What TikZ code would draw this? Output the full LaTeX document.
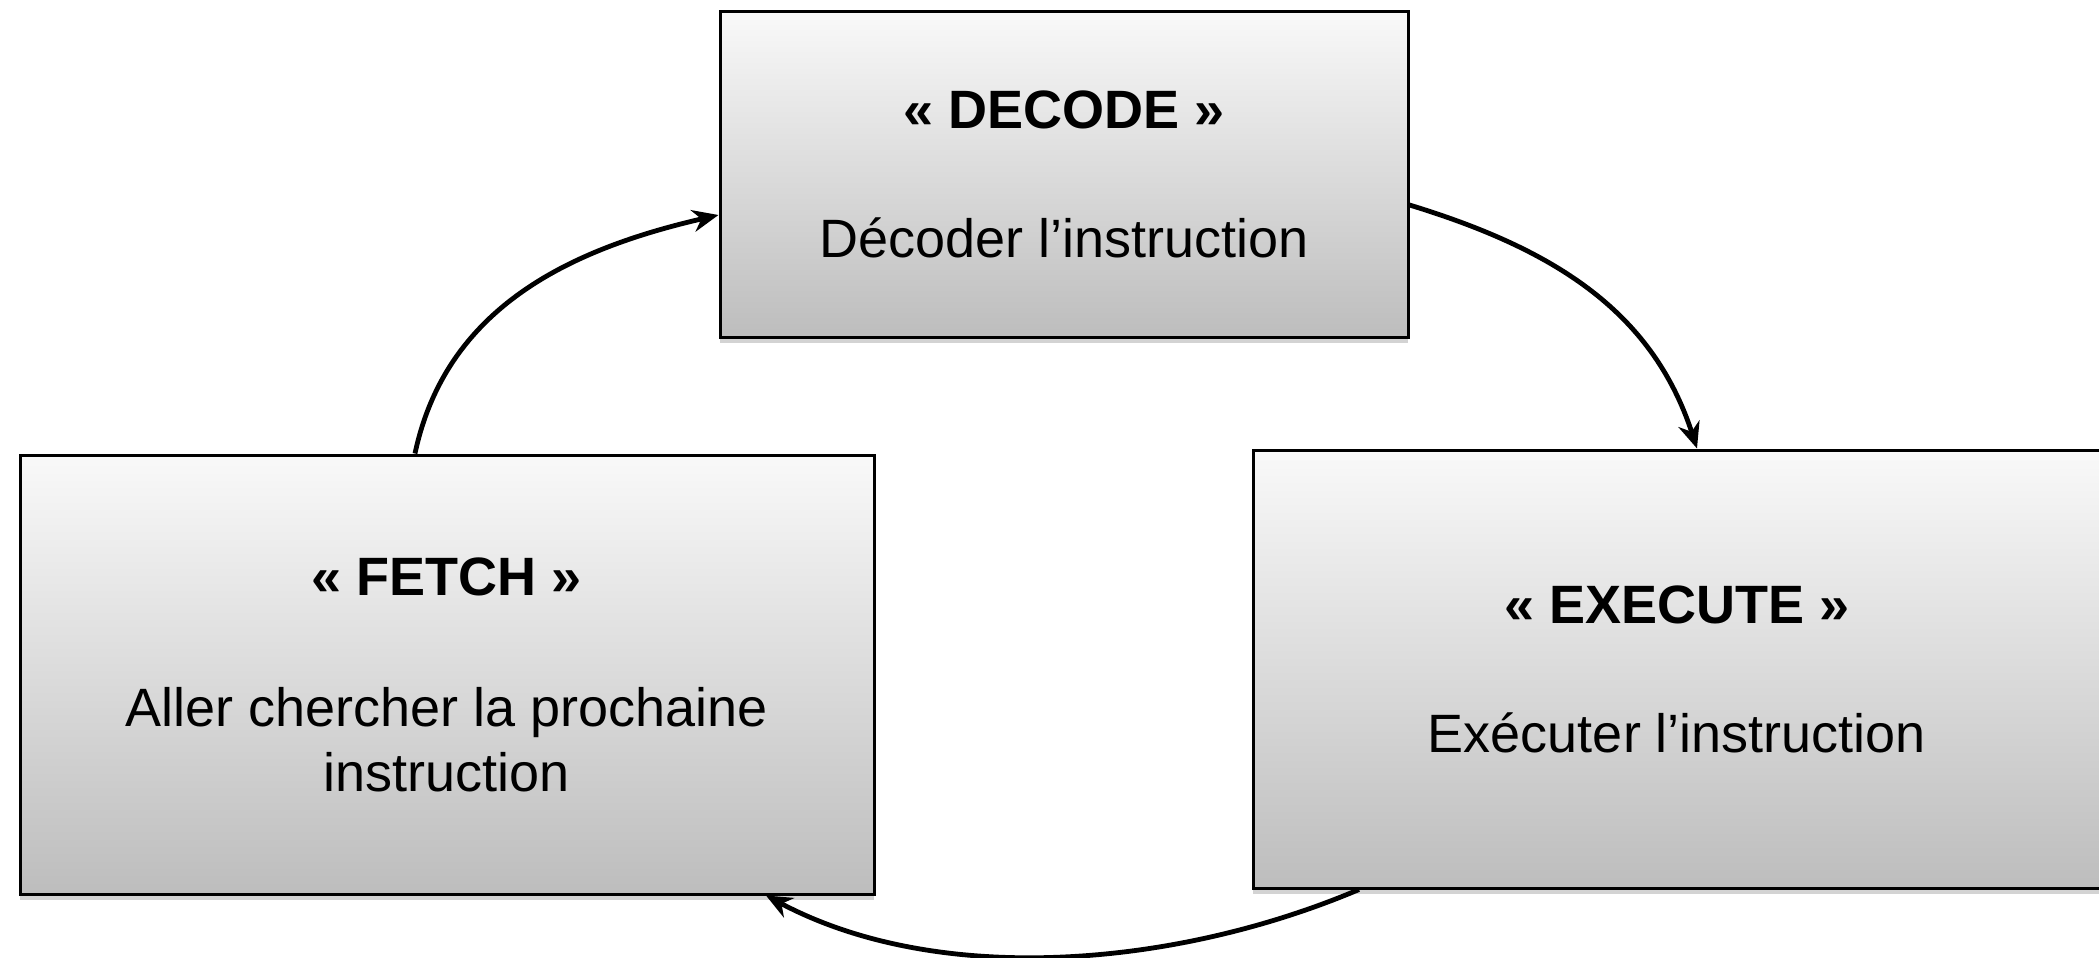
\documentclass[tikz,border=0pt]{standalone}
\usepackage{fontspec}
\setmainfont{Liberation Sans}
\usetikzlibrary{arrows.meta,calc,shadows}

\definecolor{boxtop}{RGB}{249,249,249}
\definecolor{boxbottom}{RGB}{189,189,189}

\tikzset{every picture/.style={line width=0.75pt}}
\tikzset{
  stagebox/.style={draw=black, line width=1.5pt, top color=boxtop, bottom color=boxbottom,
    drop shadow={shadow xshift=0pt, shadow yshift=-3pt, opacity=0.35},
    align=center, inner sep=0pt, font=\fontsize{27}{32.5}\selectfont},
  cyclearrow/.style={line width=2.4pt, -{Stealth[length=13pt,width=11pt]}}
}

\begin{document}
\begin{tikzpicture}[x=0.5pt,y=0.5pt,yscale=-1,xscale=1]
\useasboundingbox (0,0) rectangle (2099,958);

%Shape: Rectangle [decode]
\node (decode) at (1064,174) [stagebox, minimum width=344pt, minimum height=163pt]
  {{\bfseries « DECODE »}\\[32pt]Décoder l’instruction};
%Shape: Rectangle [fetch]
\node (fetch) at (447,674.5) [stagebox, minimum width=427pt, minimum height=219.5pt]
  {{\bfseries « FETCH »}\\[33pt]Aller chercher la prochaine\\instruction};
%Shape: Rectangle [execute]
\node (execute) at (1677,669) [stagebox, minimum width=424pt, minimum height=219pt]
  {{\bfseries « EXECUTE »}\\[32pt]Exécuter l’instruction};

%Curved Lines
\draw [cyclearrow] ($(fetch.north)+(-32,0)$) to[out=-78,in=167] ($(decode.west)+(0,41)$);
\draw [cyclearrow] ($(decode.east)+(0,31)$) to[out=17,in=252] ($(execute.north)+(20,0)$);
\draw [cyclearrow] ($(execute.south)+(-318,0)$) to[out=157,in=28,looseness=0.85] ($(fetch.south)+(319,0)$);

\end{tikzpicture}
\end{document}
